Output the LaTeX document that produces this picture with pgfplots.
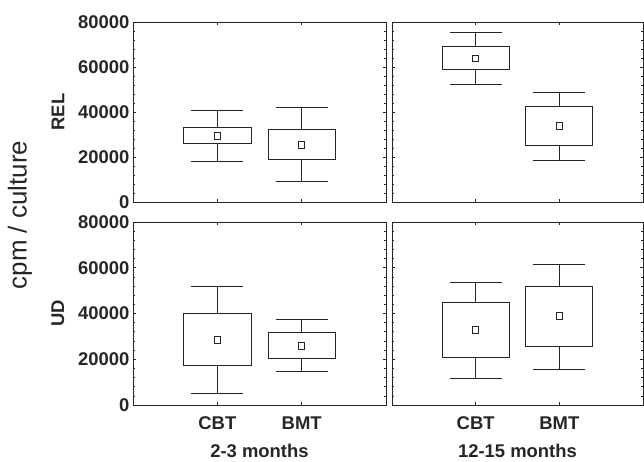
\documentclass[border=0pt]{standalone}
\usepackage{pgfplots}
\pgfplotsset{compat=1.18}
\usepgfplotslibrary{statistics}
\usepackage{fontspec}
\setmainfont{Liberation Sans}
\definecolor{ink}{gray}{0.15}
\pgfplotsset{
  panel/.style={
    scale only axis, anchor=south west,
    xmin=0, xmax=3, ymin=0, ymax=80000,
    xtick={1,2}, ytick={0,20000,40000,60000,80000},
    minor y tick num=4,
    major tick length=3bp, minor tick length=2bp,
    tick align=inside,
    axis line style={ink, line width=0.8bp},
    every tick/.style={ink, line width=0.6bp},
    scaled y ticks=false,
    /pgf/number format/fixed, /pgf/number format/1000 sep={},
    /pgf/number format/assume math mode=true,
    tick label style={font=\bfseries\fontsize{18.5}{18.5}\selectfont, text=ink},
    xticklabel style={yshift=-8bp},
    label style={font=\bfseries\fontsize{18.5}{18.5}\selectfont, text=ink},
    boxplot/draw direction=y,
    boxplot/box extend=0.8,
    boxplot/whisker extend=0.62,
    boxplot/draw/median/.code={},
  },
  bx/.style={ink, line width=0.8bp, solid},
  mn/.style={only marks, mark=square, mark size=3.2bp, ink, mark options={line width=0.8bp, fill=white}},
}
\begin{document}
\begin{tikzpicture}[x=1bp,y=1bp]
\useasboundingbox (0,0) rectangle (644,462);
% top-left: REL, 2-3 months
\begin{axis}[panel, at={(133bp,260bp)}, width=253bp, height=180bp,
  xticklabels={}, ylabel={REL}, ylabel style={yshift=7bp}]
\addplot+[bx, boxplot prepared={draw position=1, lower whisker=18200, lower quartile=26200, median=29300, upper quartile=33000, upper whisker=40900}] coordinates {};
\addplot+[bx, boxplot prepared={draw position=2, lower whisker=9300, lower quartile=19000, median=25300, upper quartile=32100, upper whisker=41900}] coordinates {};
\addplot[mn] coordinates {(1,29300) (2,25300)};
\end{axis}
% top-right: REL, 12-15 months
\begin{axis}[panel, at={(392bp,260bp)}, width=251bp, height=180bp,
  xticklabels={}, yticklabels={}]
\addplot+[bx, boxplot prepared={draw position=1, lower whisker=52100, lower quartile=58800, median=63900, upper quartile=69000, upper whisker=75400}] coordinates {};
\addplot+[bx, boxplot prepared={draw position=2, lower whisker=18700, lower quartile=25200, median=33900, upper quartile=42400, upper whisker=48900}] coordinates {};
\addplot[mn] coordinates {(1,63900) (2,33900)};
\end{axis}
% bottom-left: UD, 2-3 months
\begin{axis}[panel, at={(133bp,57bp)}, width=253bp, height=183bp,
  xticklabels={CBT,BMT}, ylabel={UD}, ylabel style={yshift=7bp},
  xlabel={2-3 months}, xlabel style={yshift=-8bp}]
\addplot+[bx, boxplot prepared={draw position=1, lower whisker=5000, lower quartile=17100, median=28400, upper quartile=40200, upper whisker=52000}] coordinates {};
\addplot+[bx, boxplot prepared={draw position=2, lower whisker=14600, lower quartile=20300, median=25800, upper quartile=31600, upper whisker=37500}] coordinates {};
\addplot[mn] coordinates {(1,28400) (2,25800)};
\end{axis}
% bottom-right: UD, 12-15 months
\begin{axis}[panel, at={(392bp,57bp)}, width=251bp, height=183bp,
  xticklabels={CBT,BMT}, yticklabels={},
  xlabel={12-15 months}, xlabel style={yshift=-8bp}]
\addplot+[bx, boxplot prepared={draw position=1, lower whisker=11800, lower quartile=20900, median=32900, upper quartile=44900, upper whisker=53800}] coordinates {};
\addplot+[bx, boxplot prepared={draw position=2, lower whisker=15600, lower quartile=25700, median=38900, upper quartile=52000, upper whisker=61500}] coordinates {};
\addplot[mn] coordinates {(1,32900) (2,38900)};
\end{axis}
\node[rotate=90, font=\fontsize{26}{26}\selectfont, text=ink] at (20,247) {cpm / culture};
\end{tikzpicture}
\end{document}
